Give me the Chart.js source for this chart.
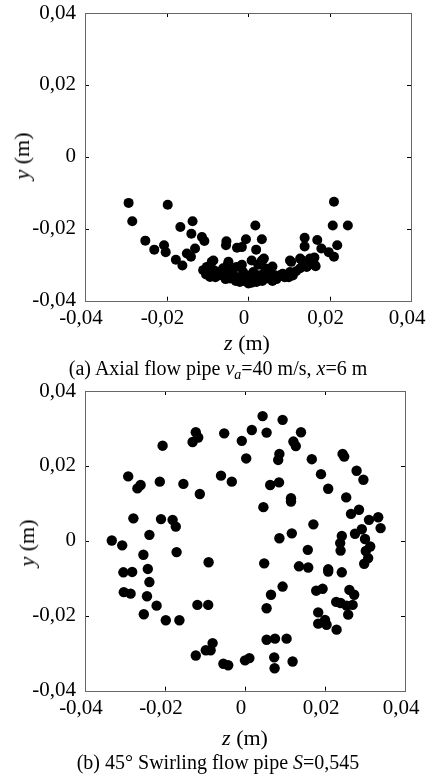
<!DOCTYPE html>
<html>
<head>
<meta charset="utf-8">
<script src="https://cdn.jsdelivr.net/npm/chart.js"></script>
<style>
  body { margin: 0; background: #fff; width: 427px; height: 776px; position: relative; overflow: hidden;
         font-family: "Liberation Serif", "DejaVu Serif", serif; color: #000; }
  .box { position: absolute; left: 0; }
  .lbl { position: absolute; transform: translate(-50%, -50%); white-space: nowrap; line-height: 1; }
  .ylbl { transform: translate(-50%, -50%) rotate(-90deg); }
  .sub { font-size: 70%; position: relative; top: 0.3em; }
</style>
</head>
<body>
<div class="box" style="top:0"><canvas id="axialChart" width="427" height="340"></canvas></div>
<div class="box" style="top:380px"><canvas id="swirlChart" width="427" height="346"></canvas></div>

<!-- axis titles and captions -->
<div class="lbl ylbl" style="left:22px; top:156px; font-size:22px"><i>y</i> (m)</div>
<div class="lbl" style="left:247px; top:343px; font-size:22px"><i>z</i> (m)</div>
<div class="lbl" style="left:218px; top:368px; font-size:20px">(a) Axial flow pipe <i>v<span class="sub">a</span></i>=40 m/s, <i>x</i>=6 m</div>

<div class="lbl ylbl" style="left:27px; top:543px; font-size:22px"><i>y</i> (m)</div>
<div class="lbl" style="left:245px; top:738px; font-size:22px"><i>z</i> (m)</div>
<div class="lbl" style="left:218px; top:762px; font-size:20px">(b) 45° Swirling flow pipe <i>S</i>=0,545</div>

<script>
// axis ticks (both axes, both panels)
const tickValues = [-0.04, -0.02, 0, 0.02, 0.04];

// (a) axial flow pipe
const zAxial = [
  -0.0293, -0.0284, -0.0197, -0.0166, -0.0136, -0.0139, -0.0252, -0.0230, -0.0206, -0.0202,
  -0.0177, -0.0161, -0.0150, -0.0130, -0.0140, -0.0113, -0.0107, -0.0103, -0.0089, -0.0084,
  -0.0053, -0.0054, -0.0027, -0.0015, -0.0005, 0.0018, 0.0020, 0.0034, 0.0039, 0.0106,
  0.0139, 0.0139, 0.0170, 0.0180, 0.0211, 0.0208, 0.0245, 0.0219, 0.0211, 0.0198,
  0.0163, 0.0166, 0.0133, 0.0145,
  -0.0085, -0.0048, -0.0028, 0.0009, 0.0034, 0.0042, 0.0103, 0.0128, 0.0152, 0.0164,
  0.0079, -0.0110, -0.0093, -0.0069, -0.0044, -0.0020, 0.0001, 0.0021, 0.0046, 0.0066,
  0.0103, 0.0128, 0.0144, -0.0061, -0.0012, 0.0013, 0.0029, 0.0054, -0.0101, -0.0036,
  -0.0007, 0.0009, -0.0075, -0.0030, 0.0040, 0.0090, 0.0110, -0.0055, 0.0015, 0.0060,
  -0.0095, -0.0080, -0.0060, -0.0040, -0.0025, -0.0010, 0.0005, 0.0020, 0.0035, 0.0050,
  0.0070, 0.0085, 0.0100, 0.0118, -0.0050, 0.0060, 0.0025, -0.0015
];
const yAxial = [
  -0.0128, -0.0179, -0.0133, -0.0195, -0.0179, -0.0214, -0.0233, -0.0258, -0.0246, -0.0265,
  -0.0286, -0.0302, -0.0269, -0.0255, -0.0278, -0.0223, -0.0234, -0.0327, -0.0292, -0.0315,
  -0.0235, -0.0246, -0.0253, -0.0251, -0.0229, -0.0191, -0.0258, -0.0229, -0.0283, -0.0292,
  -0.0225, -0.0249, -0.0231, -0.0255, -0.0125, -0.0191, -0.0191, -0.0246, -0.0278, -0.0265,
  -0.0280, -0.0304, -0.0288, -0.0304,
  -0.0288, -0.0292, -0.0306, -0.0288, -0.0288, -0.0310, -0.0288, -0.0283, -0.0283, -0.0301,
  -0.0329, -0.0315, -0.0334, -0.0329, -0.0338, -0.0348, -0.0352, -0.0348, -0.0338, -0.0329,
  -0.0320, -0.0310, -0.0306, -0.0310, -0.0320, -0.0320, -0.0329, -0.0315, -0.0306, -0.0329,
  -0.0334, -0.0350, -0.0320, -0.0345, -0.0325, -0.0335, -0.0330, -0.0340, -0.0340, -0.0345,
  -0.0325, -0.0335, -0.0325, -0.0320, -0.0335, -0.0345, -0.0330, -0.0335, -0.0345, -0.0330,
  -0.0340, -0.0325, -0.0335, -0.0318, -0.0300, -0.0305, -0.0300, -0.0300
];

// (b) 45° swirling flow pipe
const zSwirl = [
  0.0044, 0.0094, 0.0054, 0.0017, -0.0008, -0.0052, -0.0123, -0.0117, -0.0131, -0.0206,
  0.0003, 0.0086, 0.0083, 0.0121, 0.0127, 0.0140, 0.0167, 0.0190, 0.0208, 0.0244,
  0.0248, 0.0279, 0.0296, 0.0253, 0.0265, 0.0285, 0.0310, 0.0333, 0.0339, 0.0292,
  0.0275, 0.0300, 0.0313, 0.0302, 0.0308, 0.0298, 0.0242, 0.0238, 0.0239, 0.0242,
  0.0208, 0.0208, 0.0171, 0.0157, 0.0158, 0.0135, 0.0117, 0.0086, 0.0048, 0.0046,
  0.0115, 0.0115, 0.0063, 0.0085, -0.0033, -0.0060, -0.0113, -0.0154, -0.0213, -0.0292,
  -0.0269, -0.0261, -0.0279, -0.0210, -0.0181, -0.0173, -0.0239, -0.0333, -0.0307, -0.0254,
  -0.0171, -0.0091, -0.0304, -0.0282, -0.0243,
  -0.0239, -0.0303, -0.0286, -0.0245, -0.0221, -0.0253, -0.0198, -0.0164, -0.0119, -0.0092,
  -0.0081, -0.0098, -0.0086, -0.0123, -0.0054, -0.0042, 0.0000, 0.0011, 0.0054, 0.0075,
  0.0104, 0.0073, 0.0074, 0.0119, 0.0054, 0.0065, 0.0094, 0.0178, 0.0194, 0.0183,
  0.0183, 0.0200, 0.0204, 0.0229, 0.0228, 0.0239, 0.0254, 0.0269, 0.0258, 0.0261,
  0.0273
];
const ySwirl = [
  0.0333, 0.0323, 0.0289, 0.0296, 0.0267, 0.0287, 0.0290, 0.0276, 0.0264, 0.0254,
  0.0220, 0.0232, 0.0216, 0.0265, 0.0253, 0.0290, 0.0218, 0.0178, 0.0139, 0.0232,
  0.0225, 0.0187, 0.0163, 0.0116, 0.0072, 0.0083, 0.0056, 0.0063, 0.0034, 0.0031,
  0.0019, 0.0005, -0.0015, -0.0027, -0.0046, -0.0061, 0.0013, -0.0006, -0.0026, -0.0084,
  -0.0076, -0.0082, 0.0044, -0.0024, -0.0071, -0.0068, 0.0020, 0.0007, -0.0060, 0.0090,
  0.0114, 0.0105, 0.0149, 0.0156, 0.0158, 0.0174, 0.0125, 0.0152, 0.0158, 0.0172,
  0.0140, 0.0149, 0.0060, 0.0058, 0.0056, 0.0038, 0.0016, 0.0001, -0.0012, -0.0037,
  -0.0030, -0.0057, -0.0084, -0.0083, -0.0075,
  -0.0110, -0.0137, -0.0141, -0.0148, -0.0173, -0.0196, -0.0212, -0.0212, -0.0171, -0.0171,
  -0.0273, -0.0292, -0.0292, -0.0306, -0.0328, -0.0332, -0.0319, -0.0313, -0.0264, -0.0261,
  -0.0261, -0.0311, -0.0340, -0.0322, -0.0180, -0.0144, -0.0122, -0.0133, -0.0128, -0.0191,
  -0.0221, -0.0211, -0.0224, -0.0237, -0.0163, -0.0166, -0.0173, -0.0171, -0.0197, -0.0131,
  -0.0144
];

const FONT = "'Liberation Serif', 'DejaVu Serif', serif";

function fmt(v) {
  if (Math.abs(v) < 1e-9) return "0";
  return v.toFixed(2).replace(".", ",");
}

// box round the plot area and inward tick marks on all four sides
const boxTicks = {
  id: "boxTicks",
  afterDraw(chart) {
    const { ctx, chartArea: a, scales: { x, y } } = chart;
    ctx.save();
    ctx.lineWidth = 1;
    ctx.strokeStyle = "#000";
    ctx.beginPath();
    tickValues.slice(1, -1).forEach((v) => {
      const px = Math.round(x.getPixelForValue(v)) + 0.5;
      ctx.moveTo(px, a.top); ctx.lineTo(px, a.top + 4);
      ctx.moveTo(px, a.bottom); ctx.lineTo(px, a.bottom - 4);
      const py = Math.round(y.getPixelForValue(v)) + 0.5;
      ctx.moveTo(a.left, py); ctx.lineTo(a.left + 4, py);
      ctx.moveTo(a.right, py); ctx.lineTo(a.right - 4, py);
    });
    ctx.stroke();
    ctx.strokeStyle = "#666";
    ctx.strokeRect(Math.round(a.left) + 0.5, Math.round(a.top) + 0.5,
      Math.round(a.right - a.left), Math.round(a.bottom - a.top));
    ctx.restore();
  },
};

function makeChart(id, zs, ys, opt) {
  const points = zs.map((z, i) => ({ x: z, y: ys[i] }));
  return new Chart(document.getElementById(id), {
    type: "scatter",
    data: {
      datasets: [{
        data: points,
        backgroundColor: "#000",
        borderWidth: 0,
        pointRadius: opt.radius,
        clip: false,
      }],
    },
    options: {
      responsive: false,
      animation: false,
      devicePixelRatio: 1,
      layout: { autoPadding: false, padding: { top: opt.top, right: opt.right, bottom: 0, left: 0 } },
      plugins: { legend: { display: false }, tooltip: { enabled: false } },
      scales: {
        x: {
          type: "linear", min: -0.04, max: 0.04,
          afterBuildTicks: (s) => { s.ticks = tickValues.map((v) => ({ value: v })); },
          ticks: { callback: fmt, color: "#000", font: { family: FONT, size: 21 },
                   padding: 5, maxRotation: 0, labelOffset: -4, autoSkip: false },
          grid: { display: false, drawTicks: false },
          border: { display: false },
          afterFit: (s) => { s.height = opt.xHeight; s.paddingLeft = 0; s.paddingRight = 0; },
        },
        y: {
          type: "linear", min: -0.04, max: 0.04,
          afterBuildTicks: (s) => { s.ticks = tickValues.map((v) => ({ value: v })); },
          ticks: { callback: fmt, color: "#000", font: { family: FONT, size: 21 },
                   padding: 9, autoSkip: false },
          grid: { display: false, drawTicks: false },
          border: { display: false },
          afterFit: (s) => { s.width = 85; s.paddingTop = 0; s.paddingBottom = 0; },
        },
      },
    },
    plugins: [boxTicks],
  });
}

makeChart("axialChart", zAxial, yAxial, { top: 13, right: 16, xHeight: 39.3, radius: 5 });
makeChart("swirlChart", zSwirl, ySwirl, { top: 11, right: 22, xHeight: 35.3, radius: 5.2 });
</script>
</body>
</html>
